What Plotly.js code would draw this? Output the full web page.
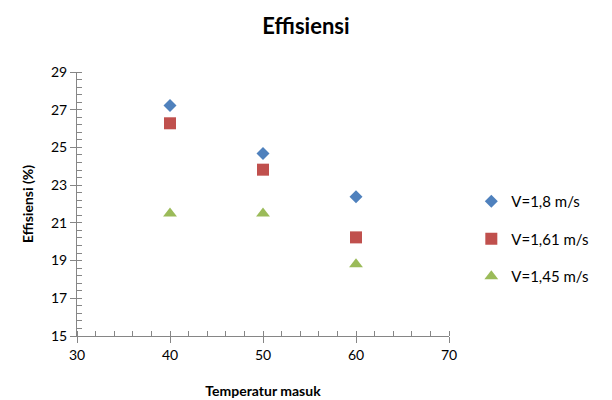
<!DOCTYPE html>
<html>
<head>
<meta charset="utf-8">
<script src="https://cdn.plot.ly/plotly-3.0.1.min.js"></script>
<style>html,body{margin:0;padding:0;background:#fff;}#chart{width:612px;height:400px;}</style>
</head>
<body>
<div id="chart"></div>
<script>
const temperatures = [40, 50, 60];
const v18 = [27.23, 24.68, 22.38];
const v161 = [26.28, 23.82, 20.23];
const v145 = [21.5, 21.5, 18.8];
const seriesNames = ["V=1,8 m/s", "V=1,61 m/s", "V=1,45 m/s"];
const xTicks = [30, 40, 50, 60, 70];
const yTicks = [15, 17, 19, 21, 23, 25, 27, 29];

const font = "Lato, 'Open Sans', sans-serif";
const traces = [
  {x: temperatures, y: v18, name: seriesNames[0], legendgroup: "a", mode: "markers", type: "scatter",
   marker: {symbol: "diamond", size: 10, color: "#4F81BD"}},
  {x: temperatures, y: v161, name: seriesNames[1], legendgroup: "b", mode: "markers", type: "scatter",
   marker: {symbol: "square", size: 12, color: "#C0504D"}},
  {x: temperatures, y: v145, name: seriesNames[2], legendgroup: "c", mode: "markers", type: "scatter",
   marker: {symbol: "triangle-up", size: 12, color: "#9BBB59"}}
];
const axisCommon = {
  showgrid: false, zeroline: false, showline: true, linecolor: "#868686", linewidth: 1,
  ticks: "outside", ticklen: 6, tickcolor: "#868686", tickfont: {family: font, size: 14, color: "#000"},
  fixedrange: true
};
const layout = {
  width: 612, height: 400,
  margin: {l: 77, r: 163, t: 72, b: 64, autoexpand: false},
  paper_bgcolor: "#fff", plot_bgcolor: "#fff",
  font: {family: font, color: "#000"},
  title: {text: "<b>Effisiensi</b>", font: {family: font, size: 22, color: "#000"}, x: 0.5, xanchor: "center", y: 0.935, yanchor: "middle"},
  xaxis: Object.assign({}, axisCommon, {
    range: [30, 70], tickmode: "array", tickvals: xTicks,
    minor: {dtick: 2, ticks: "inside", ticklen: 5, tickcolor: "#868686", showgrid: false},
    title: {text: "<b>Temperatur masuk</b>", font: {family: font, size: 14, color: "#000"}, standoff: 24}
  }),
  yaxis: Object.assign({}, axisCommon, {
    range: [15, 29], tickmode: "array", tickvals: yTicks,
    minor: {dtick: 0.4, tick0: 15, ticks: "inside", ticklen: 5, tickcolor: "#868686", showgrid: false},
    title: {text: "<b>Effisiensi (%)</b>", font: {family: font, size: 14, color: "#000"}, standoff: 14}
  }),
  showlegend: true,
  legend: {x: 1.06, xanchor: "left", y: 0.367, yanchor: "middle", traceorder: "grouped", tracegroupgap: 15,
           font: {family: font, size: 15, color: "#000"}, itemwidth: 30, bgcolor: "rgba(0,0,0,0)"}
};
Plotly.newPlot("chart", traces, layout, {displayModeBar: false, staticPlot: true});
</script>
</body>
</html>
